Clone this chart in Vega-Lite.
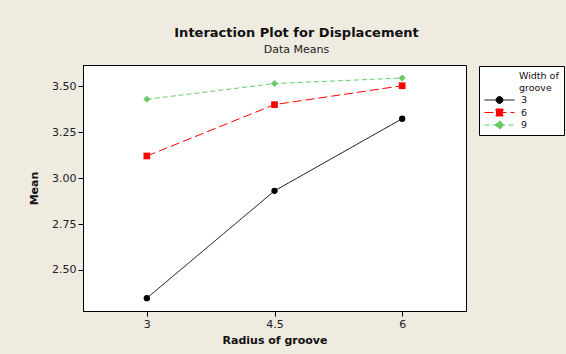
{
  "$schema": "https://vega.github.io/schema/vega-lite/v6.json",
  "width": 383,
  "height": 246,
  "autosize": {"type": "none"},
  "padding": {"left": 83, "top": 65, "right": 100, "bottom": 43},
  "background": "#EFEBE0",
  "config": {
    "view": {"stroke": "#000000", "strokeWidth": 1, "fill": "#FFFFFF"},
    "font": "DejaVu Sans",
    "axis": {
      "grid": false,
      "tickColor": "#000000",
      "domainColor": "#000000",
      "tickSize": 5,
      "labelFont": "DejaVu Sans",
      "labelFontSize": 11,
      "labelColor": "#222222",
      "titleFont": "DejaVu Sans",
      "titleFontSize": 11,
      "titleFontWeight": "bold",
      "titleColor": "#111111",
      "labelPadding": 2
    }
  },
  "title": {
    "text": "Interaction Plot for Displacement",
    "subtitle": "Data Means",
    "font": "DejaVu Sans",
    "fontSize": 13,
    "fontWeight": "bold",
    "color": "#111111",
    "subtitleFont": "DejaVu Sans",
    "subtitleFontSize": 11,
    "subtitleColor": "#222222",
    "subtitlePadding": 4,
    "anchor": "middle",
    "frame": "bounds",
    "offset": 10
  },
  "data": {
    "values": [
      {"Width": "3", "Radius": 3, "Mean": 2.346},
      {"Width": "3", "Radius": 4.5, "Mean": 2.931},
      {"Width": "3", "Radius": 6, "Mean": 3.324},
      {"Width": "6", "Radius": 3, "Mean": 3.121},
      {"Width": "6", "Radius": 4.5, "Mean": 3.401},
      {"Width": "6", "Radius": 6, "Mean": 3.504},
      {"Width": "9", "Radius": 3, "Mean": 3.430},
      {"Width": "9", "Radius": 4.5, "Mean": 3.516},
      {"Width": "9", "Radius": 6, "Mean": 3.546}
    ]
  },
  "encoding": {
    "x": {
      "field": "Radius",
      "type": "quantitative",
      "scale": {"domain": [2.25, 6.75], "nice": false, "zero": false},
      "axis": {"title": "Radius of groove", "values": [3, 4.5, 6], "format": ".1~f", "titlePadding": 5}
    },
    "y": {
      "field": "Mean",
      "type": "quantitative",
      "scale": {"domain": [2.276, 3.617], "nice": false, "zero": false},
      "axis": {"title": "Mean", "values": [2.5, 2.75, 3, 3.25, 3.5], "format": ".2f", "titlePadding": 12}
    }
  },
  "layer": [
    {
      "mark": {"type": "line", "strokeWidth": 1},
      "encoding": {
        "color": {"field": "Width", "type": "nominal", "scale": {"domain": ["3", "6", "9"], "range": ["#000000", "#FF0000", "#66CC66"]}, "legend": null},
        "strokeDash": {"field": "Width", "type": "nominal", "scale": {"domain": ["3", "6", "9"], "range": [[1, 0], [9, 4], [5, 3]]}, "legend": null}
      }
    },
    {
      "mark": {"type": "point", "filled": true, "opacity": 1},
      "encoding": {
        "color": {"field": "Width", "type": "nominal", "scale": {"domain": ["3", "6", "9"], "range": ["#000000", "#FF0000", "#66CC66"]}, "legend": null},
        "shape": {"field": "Width", "type": "nominal", "scale": {"domain": ["3", "6", "9"], "range": ["circle", "square", "diamond"]}, "legend": null},
        "size": {"field": "Width", "type": "ordinal", "scale": {"domain": ["3", "6", "9"], "range": [40, 50, 85]}, "legend": null}
      }
    },
    {
      "mark": {"type": "point", "filled": true, "opacity": 0},
      "encoding": {
        "color": {"field": "Width", "type": "nominal", "scale": {"domain": ["3", "6", "9"], "range": ["#000000", "#FF0000", "#66CC66"]},
          "legend": {"title": ["Width of", "groove"], "orient": "none", "legendX": 396, "legendY": 1, "padding": 5, "fillColor": "#FFFFFF", "strokeColor": "#000000", "symbolSize": 900, "symbolStrokeWidth": 1, "symbolOpacity": 1, "clipHeight": 9, "rowPadding": 2.5, "titlePadding": 3, "titleLineHeight": 12, "labelFont": "DejaVu Sans", "labelFontSize": 9.5, "labelColor": "#111111", "labelOffset": 6, "titleFont": "DejaVu Sans", "titleFontSize": 9.5, "titleFontWeight": "normal", "titleColor": "#111111", "encode": {"title": {"dx": {"value": 35}, "update": {"dx": {"value": 35}}}}}},
        "stroke": {"field": "Width", "type": "nominal", "scale": {"domain": ["3", "6", "9"], "range": ["#000000", "#FF0000", "#66CC66"]},
          "legend": {"title": ["Width of", "groove"], "orient": "none", "legendX": 396, "legendY": 1}},
        "shape": {"field": "Width", "type": "nominal", "scale": {"domain": ["3", "6", "9"], "range": [
          "M-1,0L1,0M0.227,0A0.227,0.227,0,1,1,-0.227,0A0.227,0.227,0,1,1,0.227,0Z",
          "M-1,0L1,0M-0.233,-0.233L0.233,-0.233L0.233,0.233L-0.233,0.233Z",
          "M-1,0L1,0M0,-0.29L0.29,0L0,0.29L-0.29,0Z"
        ]},
          "legend": {"title": ["Width of", "groove"], "orient": "none", "legendX": 396, "legendY": 1}},
        "strokeDash": {"field": "Width", "type": "nominal", "scale": {"domain": ["3", "6", "9"], "range": [[1, 0], [9, 4], [5, 3]]},
          "legend": {"title": ["Width of", "groove"], "orient": "none", "legendX": 396, "legendY": 1}}
      }
    }
  ],
  "resolve": {"scale": {"color": "independent", "shape": "independent", "strokeDash": "independent", "stroke": "independent", "size": "independent"}}
}
